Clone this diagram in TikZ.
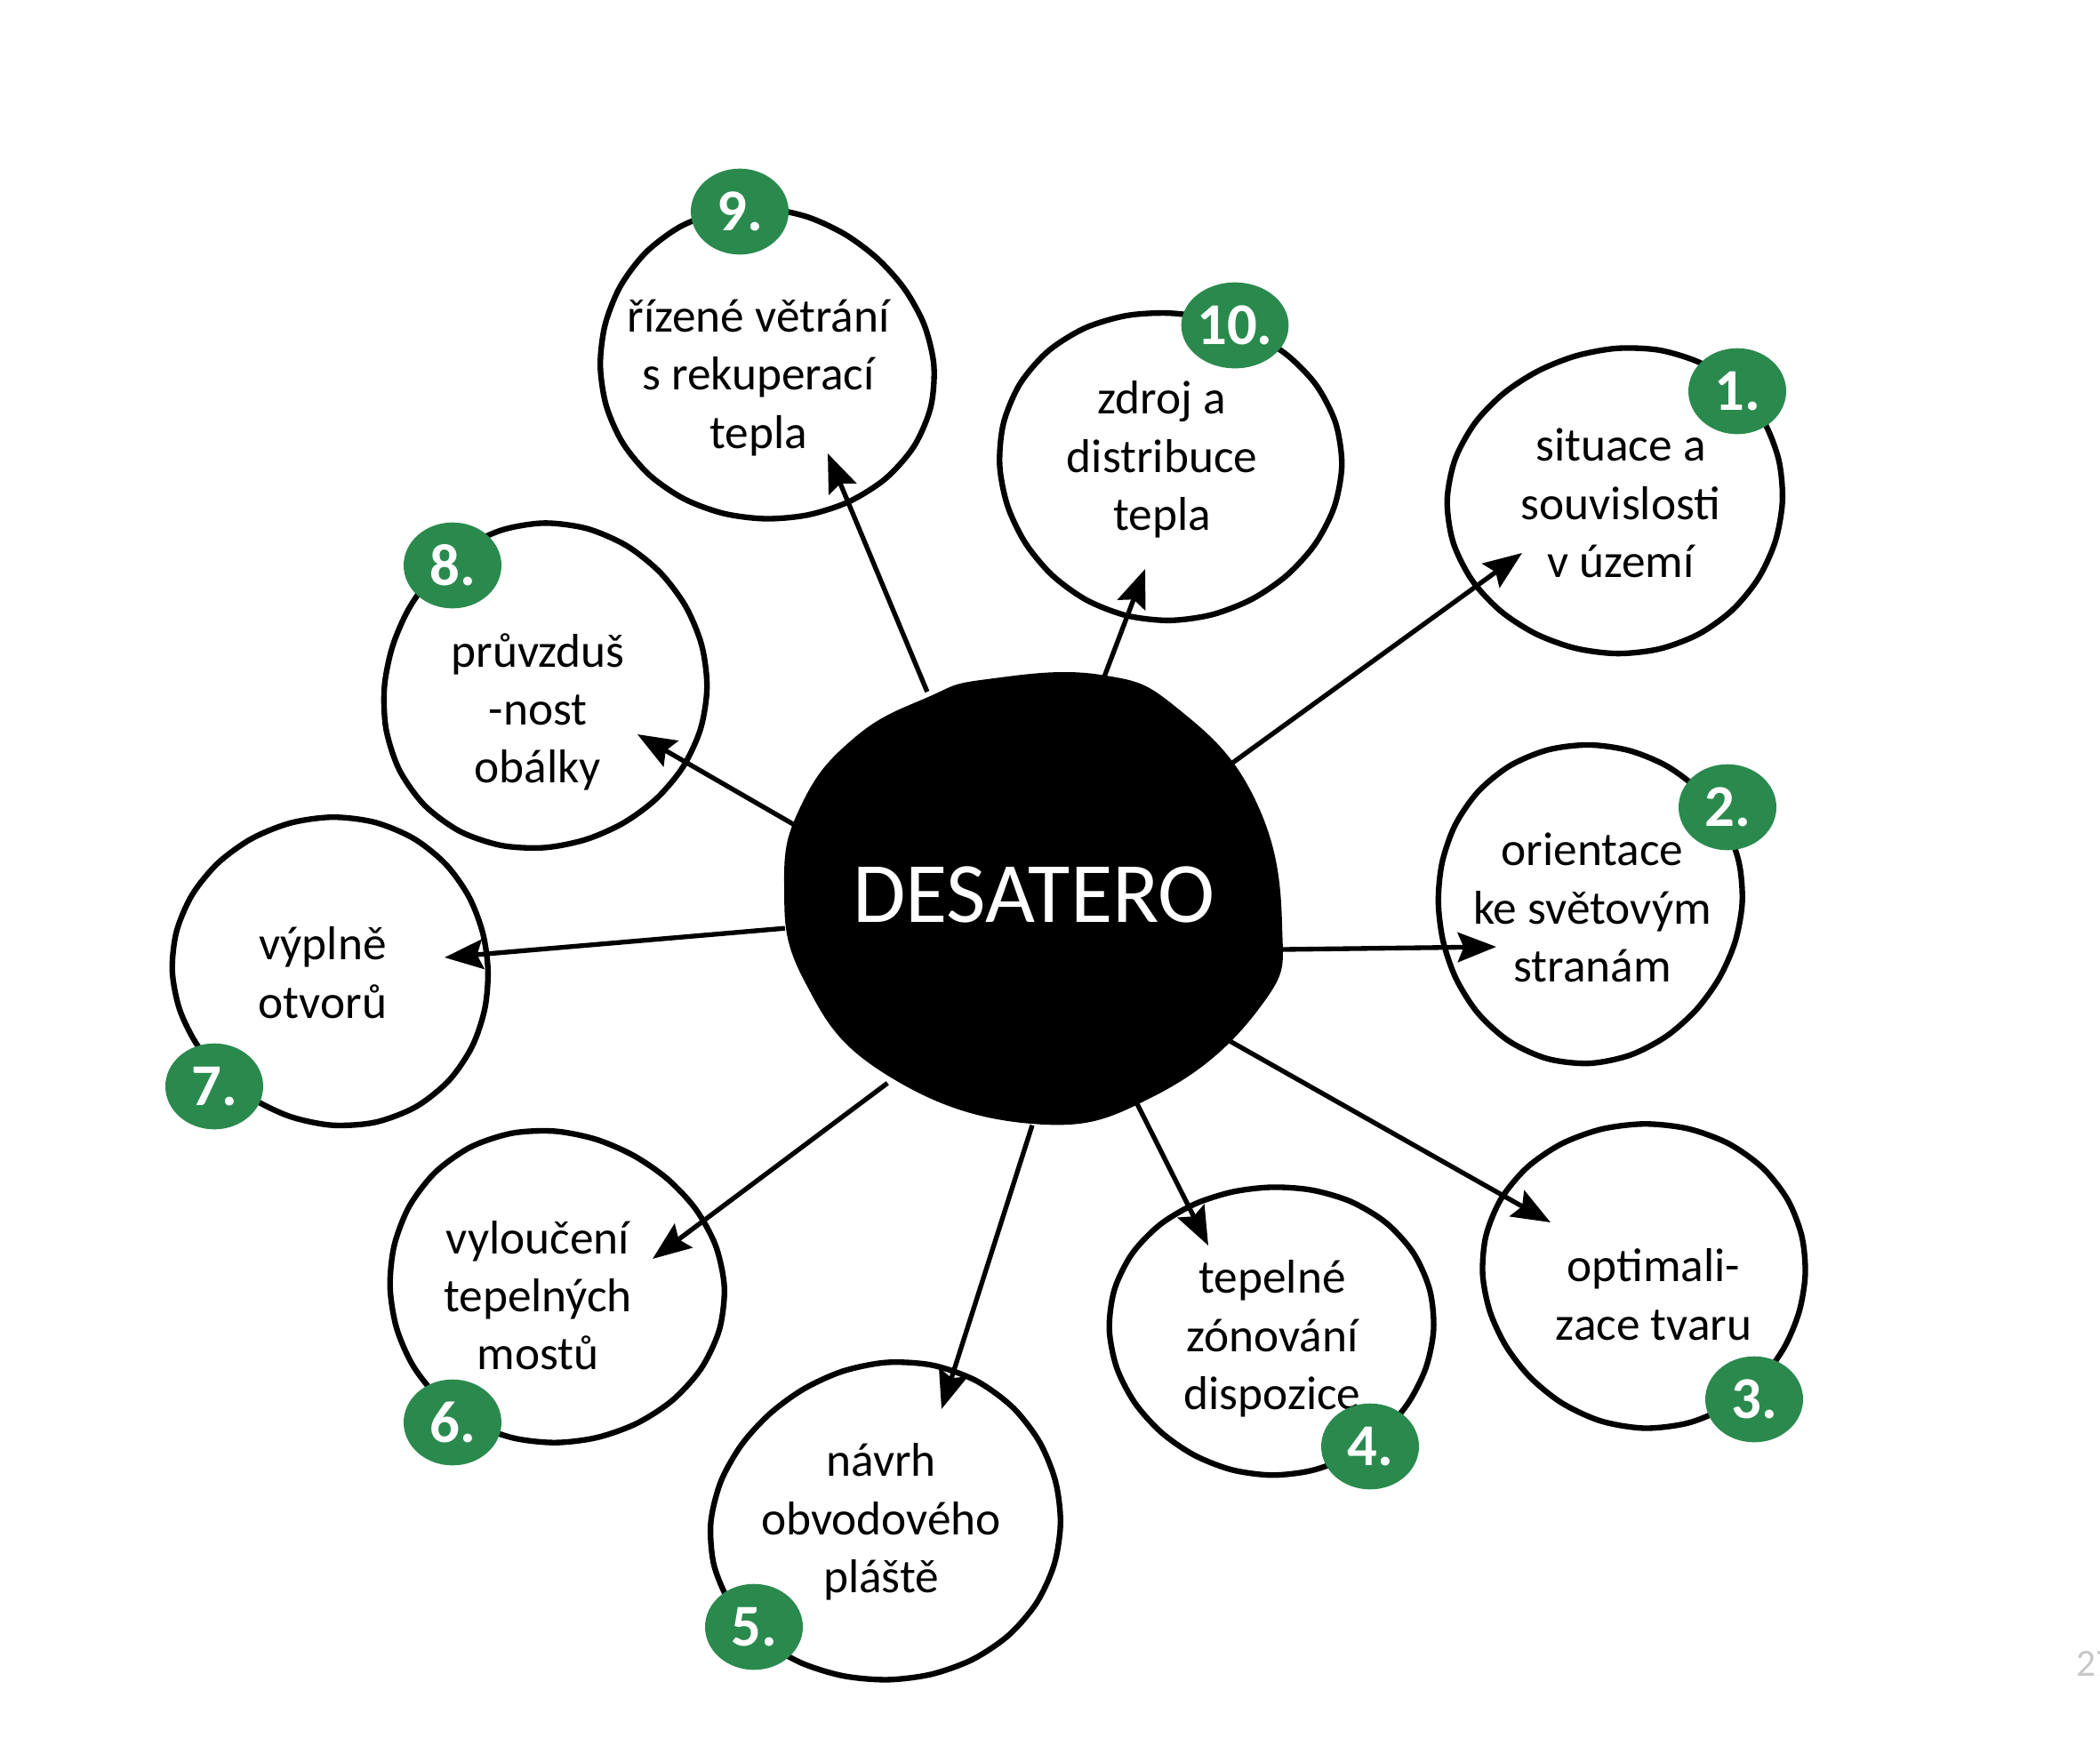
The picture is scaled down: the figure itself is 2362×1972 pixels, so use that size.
\documentclass[tikz,border=0pt]{standalone}
\usepackage{fontspec}
\setmainfont{Carlito}
\usetikzlibrary{shapes.geometric,arrows.meta}
\definecolor{dgreen}{RGB}{42,138,78}
\definecolor{pgray}{RGB}{200,200,200}
\newcommand\hcirc[5]{\draw[circ] plot[smooth cycle, domain=0:345, samples=24, variable=\t]
  ({#1+#3*(1+0.025*sin(2*\t+#5)+0.015*sin(3*\t+2*#5))*cos(\t)},
   {#2+#4*(1+0.025*sin(2*\t+#5)+0.015*sin(3*\t+2*#5))*sin(\t)});}
\begin{document}
\begin{tikzpicture}[x=0.3pt,y=-0.3pt,
  circ/.style={line width=1.9pt, line join=round},
  lbl/.style={align=center, font=\fontsize{16}{19.6}\selectfont, inner sep=0pt},
  badge/.style={ellipse, fill=dgreen, text=white, minimum width=33pt, minimum height=29pt,
    inner sep=0pt, font=\fontsize{20}{20}\selectfont\bfseries},
  arr/.style={line width=1.6pt, -{Stealth[length=13pt,width=10pt,inset=2pt]}},
  hub/.style={ellipse, minimum width=168pt, minimum height=153pt, inner sep=0pt},
]
\fill[white] (0,0) rectangle (2362,1972);
\useasboundingbox (0,0) rectangle (2362,1972);

% hand-drawn circles
\hcirc{861}{411}{186}{176}{20}
\hcirc{1315}{523}{188}{177}{70}
\hcirc{1819}{563}{185}{175}{130}
\hcirc{612}{773}{183}{181}{200}
\hcirc{1787}{1015}{175}{175}{250}
\hcirc{374}{1092}{181}{170}{310}
\hcirc{624}{1448}{185}{178}{40}
\hcirc{998}{1713}{195}{180}{160}
\hcirc{1431}{1495}{178}{166}{100}
\hcirc{1850}{1433}{186}{167}{280}

% central blob
\fill[black] plot[smooth cycle, tension=0.75] coordinates {
  (1044,784) (1110,764) (1238,759) (1326,798) (1412,900) (1442,1040)
  (1418,1132) (1300,1232) (1160,1264) (994,1207) (904,1102) (882,994)
  (902,904) (962,829)};
\node[hub] (blob) at (1161,1010) {};
\node[text=white, font=\fontsize{29}{29}\selectfont, inner sep=0pt] (dtext) at (1163,1006) {DESATERO};

% labels
\node[lbl] (t9) at (853,425) {řízené větrání\\s rekuperací\\tepla};
\node[lbl] (t10) at (1307,517) {zdroj a\\distribuce\\tepla};
\node[lbl] (t1) at (1823,566) {situace a\\souvislosti\\v území};
\node[lbl] (t8) at (605,801) {průvzduš\\-nost\\obálky};
\node[lbl] (t2) at (1791,1021) {orientace\\ke světovým\\stranám};
\node[lbl] (t7) at (363,1094) {výplně\\otvorů};
\node[lbl] (t6) at (605,1457) {vyloučení\\tepelných\\mostů};
\node[lbl] (t5) at (991,1712) {návrh\\obvodového\\pláště};
\node[lbl] (t4) at (1431,1506) {tepelné\\zónování\\dispozice};
\node[lbl] (t3) at (1860,1456) {optimali-\\zace tvaru};

% arrow tips
\coordinate (a9) at (931,510);
\coordinate (a10) at (1288,640);
\coordinate (a1) at (1712,622);
\coordinate (a8) at (717,826);
\coordinate (a2) at (1683,1065);
\coordinate (a7) at (500,1077);
\coordinate (a6) at (734,1416);
\coordinate (a5) at (1059,1585);
\coordinate (a4) at (1359,1401);
\coordinate (a3) at (1744,1375);
\draw[arr] (blob.117.6) -- (a9);
\draw[arr] (blob.72.8) -- (a10);
\draw[arr] (blob.34.8) -- (a1);
\draw[arr] (blob.163.1) -- (a8);
\draw[arr] (blob.-12.8) -- (a2);
\draw[arr] (blob.187.8) -- (a7);
\draw[arr] (blob.232.1) -- (a6);
\draw[arr] (blob.270.4) -- (a5);
\draw[arr] (blob.297.6) -- (a4);
\draw[arr] (blob.324.1) -- (a3);

% badges
\node[badge] (b9) at (832,238) {9.};
\node[badge] (b10) at (1389,366) {10.};
\node[badge] (b1) at (1954,440) {1.};
\node[badge] (b8) at (509,636) {8.};
\node[badge] (b2) at (1943,908) {2.};
\node[badge] (b7) at (241,1222) {7.};
\node[badge] (b6) at (509,1600) {6.};
\node[badge] (b5) at (848,1830) {5.};
\node[badge] (b4) at (1541,1627) {4.};
\node[badge] (b3) at (1973,1574) {3.};

% page number (cut by the page edge, as in the reference)
\node[anchor=base west, text=pgray, font=\fontsize{13}{13}\selectfont, inner sep=0pt] (pg) at (2335,1885) {27};
\end{tikzpicture}
\end{document}
